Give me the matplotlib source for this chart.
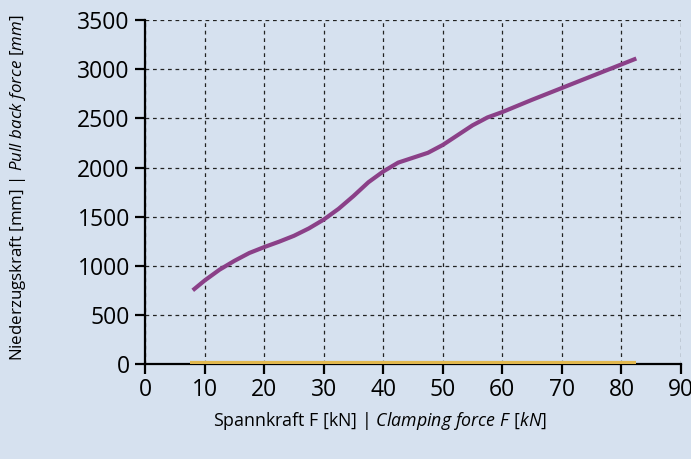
import numpy as np
import matplotlib.pyplot as plt

plt.rcParams['font.family'] = ['Open Sans', 'DejaVu Sans']
plt.rcParams['mathtext.fontset'] = 'custom'
plt.rcParams['mathtext.rm'] = 'Open Sans'
plt.rcParams['mathtext.it'] = 'Open Sans:italic'

# Niederzugskraft über Spannkraft
spannkraft = [8, 10, 12.5, 15, 17.5, 20, 22.5, 25, 27.5, 30, 32.5, 35, 37.5, 40,
              42.5, 45, 47.5, 50, 52.5, 55, 57.5, 60, 65, 70, 75, 80, 82.5]
niederzug = [750, 850, 960, 1050, 1130, 1190, 1245, 1305, 1380, 1470, 1580, 1710,
             1850, 1960, 2050, 2100, 2150, 2230, 2330, 2430, 2510, 2565, 2690,
             2810, 2930, 3050, 3110]

# zweite Kurve (bei null)
linie2_x = [7.5, 82.5]
linie2_y = [15, 15]

bg = '#D6E1EF'
fig = plt.figure(figsize=(6.91, 4.59), dpi=100, facecolor=bg)
ax = fig.add_axes([0.21, 0.207, 0.7755, 0.749])
ax.set_facecolor(bg)

ax.plot(linie2_x, linie2_y, color='#E2B84E', lw=3, solid_capstyle='butt', zorder=3)
ax.plot(spannkraft, niederzug, color='#8B4088', lw=3, solid_capstyle='butt', zorder=4)

ax.set_xlim(0, 90)
ax.set_ylim(0, 3500)
ax.set_xticks(range(0, 91, 10))
ax.set_yticks(range(0, 3501, 500))
ax.grid(True, ls=(0, (3, 3)), color='#222222', lw=0.9)
ax.set_axisbelow(True)

for s in ['top', 'right']:
    ax.spines[s].set_visible(False)
for s in ['left', 'bottom']:
    ax.spines[s].set_linewidth(1.6)
ax.tick_params(length=7, width=1.6, labelsize=16.5, pad=4)
ax.tick_params(axis='x', pad=3)

ax.set_xlabel(r'Spannkraft F [kN] | $\it{Clamping\ force\ F\ [kN]}$', fontsize=12.8)
ax.set_ylabel(r'Niederzugskraft [mm] | $\it{Pull\ back\ force\ [mm]}$', fontsize=12.2)
ax.xaxis.set_label_coords(0.438, -0.135)
ax.yaxis.set_label_coords(-0.218, 0.512)

plt.savefig('out.png', dpi=100, facecolor=bg)
